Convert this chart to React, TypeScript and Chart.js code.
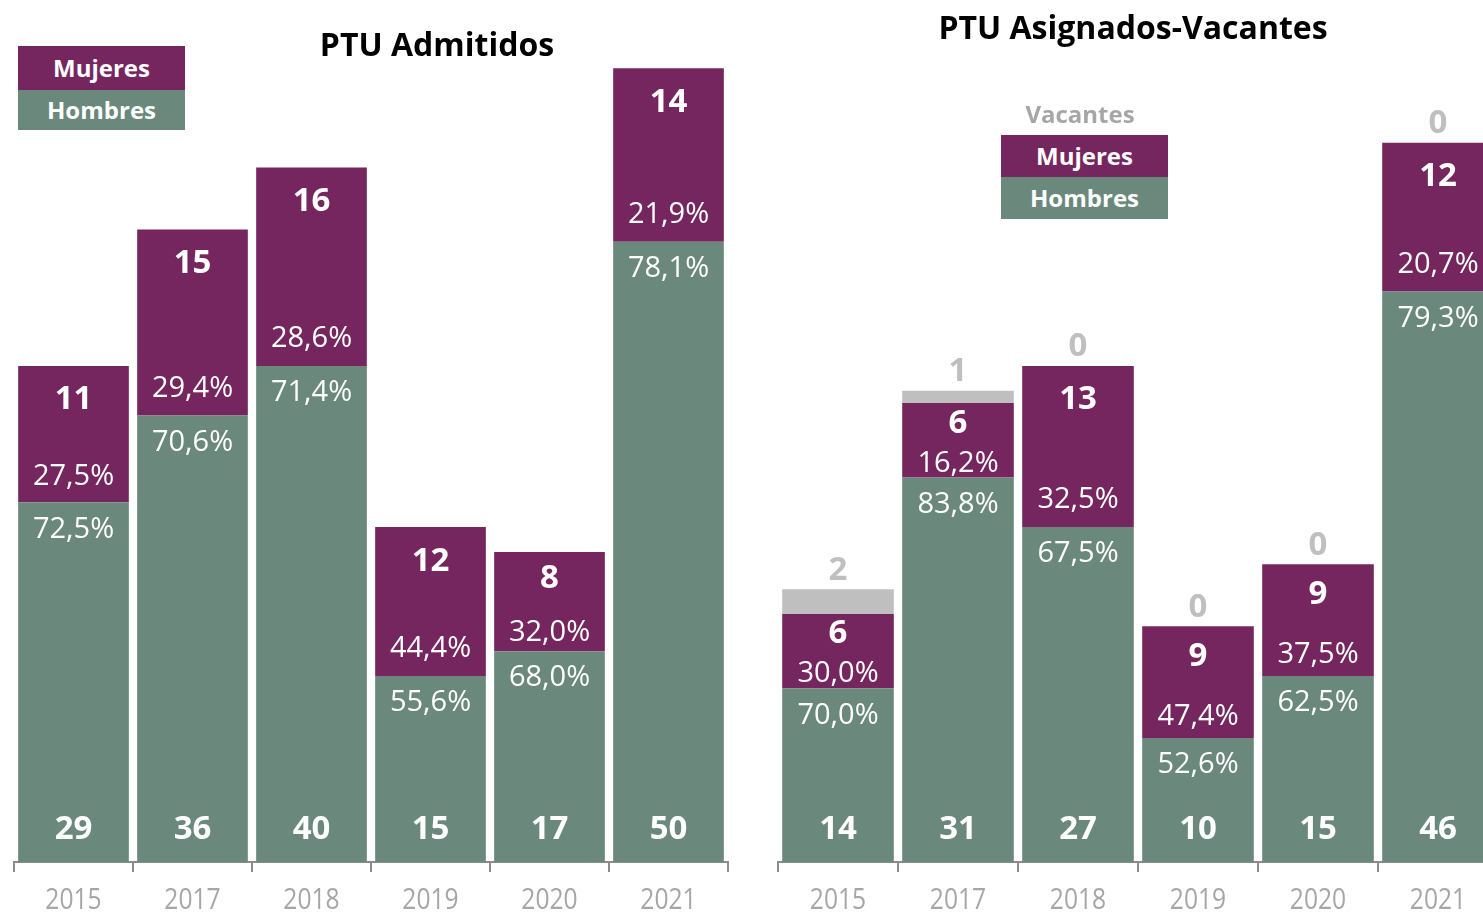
import React, { useEffect, useRef } from "react";
import { Chart, registerables } from "chart.js";

Chart.register(...registerables);

const years = ["2015", "2017", "2018", "2019", "2020", "2021"];

const admitidosHombres = [29, 36, 40, 15, 17, 50];
const admitidosMujeres = [11, 15, 16, 12, 8, 14];

const asignadosHombres = [14, 31, 27, 10, 15, 46];
const asignadosMujeres = [6, 6, 13, 9, 9, 12];
const asignadosVacantes = [2, 1, 0, 0, 0, 0];

const GREEN = "#6A887C";
const PURPLE = "#76265F";
const GRAY = "#BFBFBF";
const AXIS = "#8C8C8C";
const SANS = '"Open Sans", "Noto Sans", sans-serif';

const fmtPct = (v: number) => (v * 100).toFixed(1).replace(".", ",") + "%";

const labelPlugin = {
  id: "barLabels",
  afterDatasetsDraw(chart: any) {
    const ctx = chart.ctx;
    const metaH = chart.getDatasetMeta(0);
    const metaM = chart.getDatasetMeta(1);
    const hasV = chart.data.datasets.length > 2;
    const metaV = hasV ? chart.getDatasetMeta(2) : null;
    const dH = chart.data.datasets[0].data as number[];
    const dM = chart.data.datasets[1].data as number[];
    const dV = hasV ? (chart.data.datasets[2].data as number[]) : null;
    ctx.save();
    ctx.textAlign = "center";
    ctx.textBaseline = "middle";
    for (let i = 0; i < dH.length; i++) {
      const total = dH[i] + dM[i];
      const h = metaH.data[i].getProps(["x", "y", "base"], true);
      const m = metaM.data[i].getProps(["x", "y", "base"], true);
      // Hombres
      ctx.fillStyle = "#FFFFFF";
      ctx.font = `bold 33px ${SANS}`;
      ctx.fillText(String(dH[i]), h.x, h.base - 32);
      ctx.font = `29px ${SANS}`;
      ctx.fillText(fmtPct(dH[i] / total), h.x, h.y + 27);
      // Mujeres
      const mh = m.base - m.y;
      ctx.font = `bold 33px ${SANS}`;
      ctx.fillText(String(dM[i]), m.x, m.y + Math.min(34, mh * 0.27));
      ctx.font = `29px ${SANS}`;
      ctx.fillText(fmtPct(dM[i] / total), m.x, m.base - Math.min(27, mh * 0.19));
      // Vacantes
      if (metaV && dV) {
        const v = metaV.data[i].getProps(["x", "y", "base"], true);
        ctx.fillStyle = GRAY;
        ctx.font = `bold 33px ${SANS}`;
        ctx.fillText(String(dV[i]), v.x, Math.min(v.y, m.y) - 19);
      }
    }
    ctx.restore();
  },
  afterDraw(chart: any) {
    const ctx = chart.ctx;
    const xs = chart.scales.x;
    ctx.save();
    ctx.fillStyle = "#A6A6A6";
    ctx.font = `30px ${SANS}`;
    ctx.textAlign = "center";
    ctx.textBaseline = "middle";
    const labels = chart.data.labels as string[];
    labels.forEach((lab, i) => {
      const x = xs.getPixelForValue(i);
      ctx.save();
      ctx.translate(x, xs.top + 38);
      ctx.scale(0.82, 1);
      ctx.fillText(lab, 0, 0);
      ctx.restore();
    });
    ctx.restore();
  },
};

function makeConfig(datasets: any[], padLeft: number) {
  return {
    type: "bar" as const,
    data: { labels: years, datasets },
    plugins: [labelPlugin],
    options: {
      animation: false,
      responsive: false,
      maintainAspectRatio: false,
      devicePixelRatio: 1,
      layout: { padding: { left: padLeft, right: 10, top: 0, bottom: 0 } },
      plugins: { legend: { display: false }, tooltip: { enabled: false }, title: { display: false } },
      datasets: { bar: { categoryPercentage: 1, barPercentage: 0.93, borderWidth: 0 } },
      scales: {
        x: {
          stacked: true,
          offset: true,
          afterFit: (scale: any) => {
            scale.height = 51;
          },
          grid: {
            display: true,
            offset: true,
            drawOnChartArea: false,
            drawTicks: true,
            tickLength: 10,
            color: AXIS,
            lineWidth: 2,
          },
          border: { display: true, color: AXIS, width: 2 },
          ticks: { display: false },
        },
        y: { stacked: true, display: false, min: 0, max: 69.5 },
      },
    },
  };
}

function BarCanvas({
  datasets,
  left,
  width,
  padLeft,
}: {
  datasets: any[];
  left: number;
  width: number;
  padLeft: number;
}) {
  const ref = useRef<HTMLCanvasElement>(null);
  useEffect(() => {
    if (!ref.current) return;
    const chart = new Chart(ref.current, makeConfig(datasets, padLeft) as any);
    return () => chart.destroy();
  }, []);
  return (
    <canvas
      ref={ref}
      width={width}
      height={913}
      style={{ position: "absolute", left, top: 0, width, height: 913 }}
    />
  );
}

const legendBox = (bg: string, h: number): React.CSSProperties => ({
  background: bg,
  height: h,
  color: "#FFFFFF",
  fontWeight: 700,
  fontSize: 24,
  lineHeight: `${h}px`,
  textAlign: "center",
});

export default function App() {
  const leftSets = [
    { label: "Hombres", data: admitidosHombres, backgroundColor: GREEN },
    { label: "Mujeres", data: admitidosMujeres, backgroundColor: PURPLE },
  ];
  const rightSets = [
    { label: "Hombres", data: asignadosHombres, backgroundColor: GREEN },
    { label: "Mujeres", data: asignadosMujeres, backgroundColor: PURPLE },
    { label: "Vacantes", data: asignadosVacantes, backgroundColor: GRAY },
  ];
  return (
    <div
      style={{
        position: "fixed",
        left: 0,
        top: 0,
        width: 1483,
        height: 913,
        overflow: "hidden",
        background: "#FFFFFF",
        fontFamily: SANS,
      }}
    >
      <BarCanvas datasets={leftSets} left={0} width={738} padLeft={14} />
      <BarCanvas datasets={rightSets} left={768} width={740} padLeft={10} />
      <div
        style={{
          position: "absolute",
          left: 237,
          width: 400,
          top: 24,
          textAlign: "center",
          fontWeight: 700,
          fontSize: 32,
          lineHeight: "40px",
          color: "#000",
        }}
      >
        PTU Admitidos
      </div>
      <div
        style={{
          position: "absolute",
          left: 883,
          width: 500,
          top: 7,
          textAlign: "center",
          fontWeight: 700,
          fontSize: 32,
          lineHeight: "40px",
          color: "#000",
        }}
      >
        PTU Asignados-Vacantes
      </div>
      <div style={{ position: "absolute", left: 18, top: 46, width: 167 }}>
        <div style={legendBox(PURPLE, 44)}>Mujeres</div>
        <div style={legendBox(GREEN, 40)}>Hombres</div>
      </div>
      <div
        style={{
          position: "absolute",
          left: 980,
          width: 200,
          top: 99,
          textAlign: "center",
          fontWeight: 700,
          fontSize: 24,
          lineHeight: "30px",
          color: "#A6A6A6",
        }}
      >
        Vacantes
      </div>
      <div style={{ position: "absolute", left: 1001, top: 135, width: 167 }}>
        <div style={legendBox(PURPLE, 42)}>Mujeres</div>
        <div style={legendBox(GREEN, 42)}>Hombres</div>
      </div>
    </div>
  );
}
